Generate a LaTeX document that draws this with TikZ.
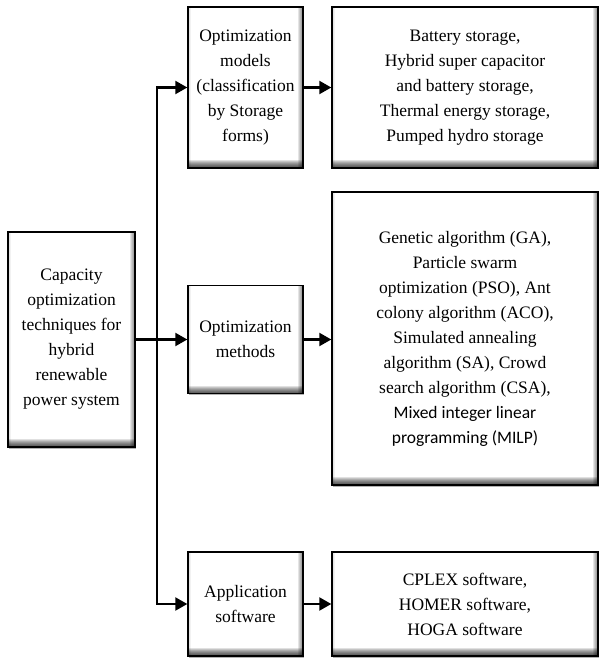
\documentclass[tikz,border=0pt]{standalone}
\usepackage{fontspec}
\setmainfont{Liberation Serif}
\newfontfamily\calibrifont{Carlito}
\usetikzlibrary{arrows.meta,shadows}

\begin{document}
\begin{tikzpicture}[x=1pt, y=-1pt,
        blk/.style={draw, line width=1.4pt, fill=white, align=center, inner sep=0pt,
            font=\fontsize{17.5}{25}\selectfont,
            path picture={
                \foreach \i in {1,...,5}
                    \fill[black, opacity=0.1] ([xshift=-\i pt]path picture bounding box.north east)
                        rectangle (path picture bounding box.south east);
                \foreach \i in {1,...,8}
                    \fill[black, opacity=0.12] (path picture bounding box.south west)
                        rectangle ([yshift=\i pt]path picture bounding box.south east);
                \foreach \i in {1,...,3}
                    \fill[black, opacity=0.05] (path picture bounding box.north west)
                        rectangle ([xshift=\i pt]path picture bounding box.south west);
            },
            drop shadow={shadow xshift=1pt, shadow yshift=-1.5pt, fill=black!50, opacity=0.6}},
        arr/.style={line width=2.2pt, -{Triangle[length=12pt, width=13pt]}}]
    \useasboundingbox (0,0) rectangle (601,660);
    % left block
    \node[blk, minimum width=127pt, minimum height=215pt] (cap) at (71.5,339.5)
        {Capacity\\optimization\\techniques for\\hybrid\\renewable\\power system};
    % middle column
    \node[blk, minimum width=115pt, minimum height=161pt] (models) at (245.5,87.5)
        {Optimization\\models\\(classification\\by Storage\\forms)};
    \node[blk, minimum width=115pt, minimum height=108pt] (methods) at (245.5,339.5)
        {Optimization\\methods};
    \node[blk, minimum width=115pt, minimum height=104pt] (software) at (245.5,604)
        {Application\\software};
    % right column
    \node[blk, minimum width=266pt, minimum height=161pt] (storage) at (465,87.5)
        {Battery storage,\\Hybrid super capacitor\\and battery storage,\\Thermal energy storage,\\Pumped hydro storage};
    \node[blk, minimum width=266pt, minimum height=293pt] (algos) at (465,338.5)
        {Genetic algorithm (GA),\\Particle swarm\\optimization (PSO), Ant\\colony algorithm (ACO),\\Simulated annealing\\algorithm (SA), Crowd\\search algorithm (CSA),\\{\calibrifont Mixed integer linear}\\{\calibrifont programming (MILP)}};
    \node[blk, minimum width=266pt, minimum height=104pt] (tools) at (465,604)
        {CPLEX software,\\HOMER software,\\HOGA software};
    % connectors
    \coordinate (trunk) at (157,339.5);
    \draw[arr] (cap.east) -- (methods.west);
    \draw[arr] (trunk) |- (models.west);
    \draw[arr] (trunk) |- (software.west);
    \draw[arr] (models.east) -- (storage.west);
    \draw[arr] (methods.east) -- (algos.west |- methods.east);
    \draw[arr] (software.east) -- (tools.west);
\end{tikzpicture}
\end{document}
